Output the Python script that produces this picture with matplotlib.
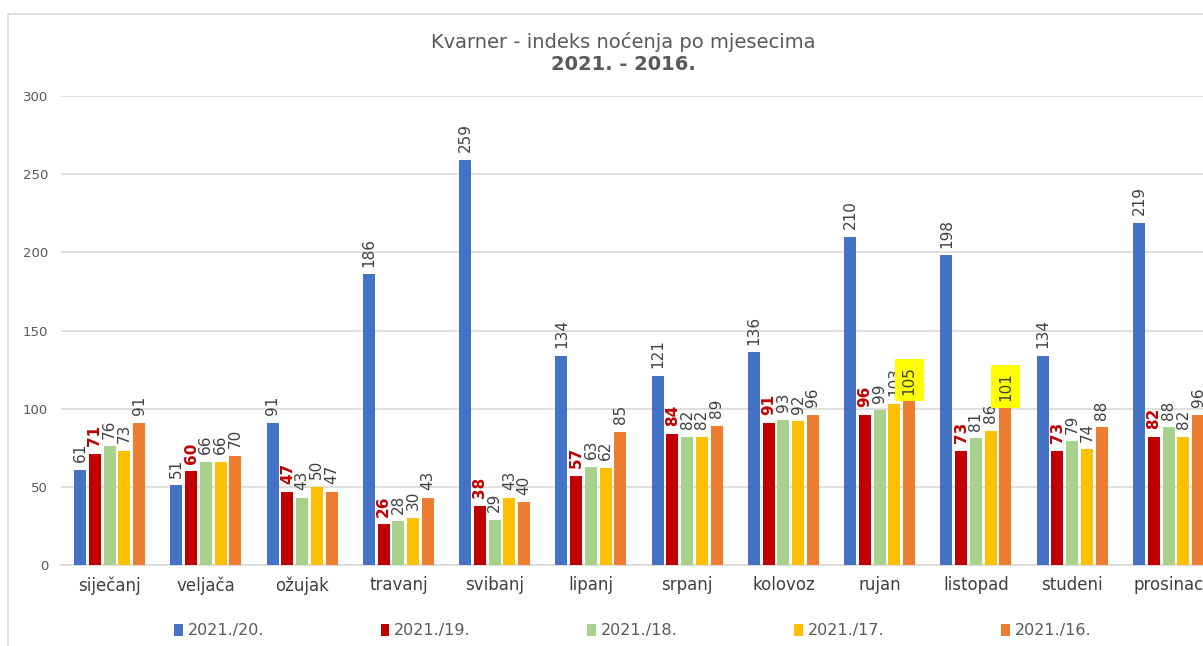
import matplotlib
matplotlib.use("Agg")
import matplotlib.pyplot as plt
import numpy as np
from matplotlib.patches import Rectangle, Patch

months = ["siječanj", "veljača", "ožujak", "travanj", "svibanj", "lipanj",
          "srpanj", "kolovoz", "rujan", "listopad", "studeni", "prosinac"]
series_names = ["2021./20.", "2021./19.", "2021./18.", "2021./17.", "2021./16."]
s20 = [61, 51, 91, 186, 259, 134, 121, 136, 210, 198, 134, 219]
s19 = [71, 60, 47, 26, 38, 57, 84, 91, 96, 73, 73, 82]
s18 = [76, 66, 43, 28, 29, 63, 82, 93, 99, 81, 79, 88]
s17 = [73, 66, 50, 30, 43, 62, 82, 92, 103, 86, 74, 82]
s16 = [91, 70, 47, 43, 40, 85, 89, 96, 105, 101, 88, 96]
colors = ["#4472C4", "#C00000", "#A9D18E", "#FFC000", "#ED7D31"]
yticks = [0, 50, 100, 150, 200, 250, 300]
highlight = {(4, 8), (4, 9)}  # (series, month) with yellow label box

W, H = 1203, 646
fig = plt.figure(figsize=(W / 100, H / 100), dpi=100)
plt.rcParams['font.family'] = ['DejaVu Sans']

# chart border
fig.patches.append(Rectangle((8 / W, -0.1), 1.2, (H - 13.5) / H + 0.1, transform=fig.transFigure,
                             fill=False, edgecolor="#D9D9D9", linewidth=1.2))

left_px, zero_px, top_px = 61.4, 565, 96
cat_px = 96.27
ax = fig.add_axes([left_px / W, (H - zero_px) / H, 12 * cat_px / W, (zero_px - top_px) / H])
ax.set_xlim(-0.5, 11.5)
ax.set_ylim(0, 300)

pitch = 14.75 / cat_px
bw = 12.0 / cat_px
x = np.arange(len(months))
all_series = [s20, s19, s18, s17, s16]
for i, (vals, c) in enumerate(zip(all_series, colors)):
    xs = x + (i - 2) * pitch
    ax.bar(xs, vals, width=bw, color=c, edgecolor="none", zorder=3)
    for j, (xx, v) in enumerate(zip(xs, vals)):
        kw = dict(rotation=90, ha="center", va="bottom", fontsize=11, zorder=5)
        if i == 1:
            kw.update(color="#C00000", fontweight="bold")
        else:
            kw.update(color="#404040")
        if (i, j) in highlight:
            kw.update(bbox=dict(boxstyle="square,pad=0.45", facecolor="#FFFF00", edgecolor="none"))
            ax.annotate(str(v), (xx, v), xytext=(0, 4.5), textcoords="offset points", **kw)
        else:
            ax.annotate(str(v), (xx, v), xytext=(0, 5.5), textcoords="offset points", **kw)

ax.set_yticks(yticks)
ax.set_yticklabels([str(t) for t in yticks], fontsize=9.5, color="#595959")
ax.set_xticks(x)
ax.set_xticklabels(months, fontsize=12, color="#404040")
ax.tick_params(axis="both", length=0)
ax.tick_params(axis="y", pad=9.5)
ax.tick_params(axis="x", pad=8)
ax.grid(axis="y", color="#D9D9D9", linewidth=1.2, zorder=0)
for s in ["top", "right", "left"]:
    ax.spines[s].set_visible(False)
ax.spines["bottom"].set_color("#D9D9D9")
ax.spines["bottom"].set_linewidth(1.2)

fig.text(623 / W, 1 - 42 / H, "Kvarner - indeks noćenja po mjesecima", ha="center", va="center",
         fontsize=14, color="#595959")
fig.text(623 / W, 1 - 64 / H, "2021. - 2016.", ha="center", va="center",
         fontsize=14, color="#595959", fontweight="bold")

handles = [Patch(facecolor=c, edgecolor="none") for c in colors]
leg = fig.legend(handles, series_names, ncol=5, loc="center left",
                 bbox_to_anchor=(174 / W, 1 - 631 / H), frameon=False,
                 fontsize=11.5, handlelength=0.55, handleheight=0.7, handletextpad=0.3,
                 columnspacing=7.3, borderpad=0, borderaxespad=0)
for t in leg.get_texts():
    t.set_color("#595959")

fig.savefig("out.png", dpi=100)
